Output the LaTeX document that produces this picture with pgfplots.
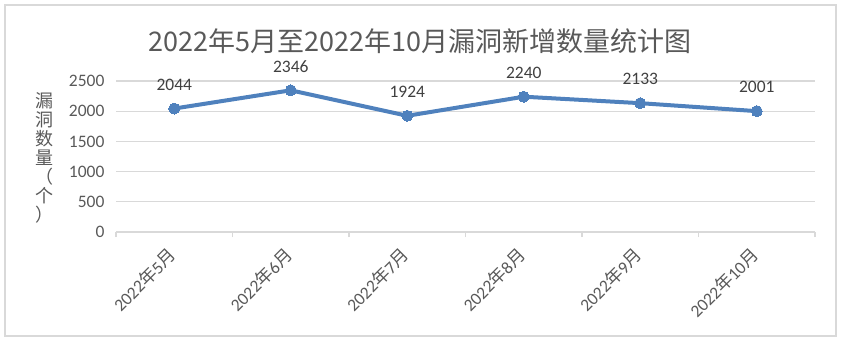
\documentclass[border=0pt]{standalone}
\usepackage{pgfplots}
\pgfplotsset{compat=1.18}
\usepackage{fontspec}
\setmainfont{Carlito}
\newfontfamily\cjk{Noto Sans CJK SC}
\definecolor{linec}{RGB}{79,129,189}
\definecolor{gridc}{RGB}{217,217,217}
\definecolor{txt}{RGB}{89,89,89}
\definecolor{lbl}{RGB}{64,64,64}
\begin{document}
\begin{tikzpicture}[x=1pt,y=1pt]
\path[use as bounding box] (0,0) rectangle (843,341);
\draw[gridc, line width=1.2pt] (5,5) rectangle (836,336);
\node[text=txt, font=\fontsize{27}{30}\selectfont\cjk] at (420,300) {2022年5月至2022年10月漏洞新增数量统计图};
\node[text=txt, font=\fontsize{18}{20}\selectfont\cjk, align=center, anchor=center] at (44,183)
  {漏\\[-1pt]洞\\[-1pt]数\\[-1pt]量\\[-1pt]（\\[-1pt]个\\[-1pt]）};
\begin{axis}[
  at={(116pt,109pt)}, anchor=south west,
  scale only axis, width=699pt, height=151pt,
  xmin=-0.5, xmax=5.5, ymin=0, ymax=2500,
  ytick={0,500,...,2500},
  xtick={0,...,5},
  xticklabels={2022{\cjk 年}5{\cjk 月},2022{\cjk 年}6{\cjk 月},2022{\cjk 年}7{\cjk 月},2022{\cjk 年}8{\cjk 月},2022{\cjk 年}9{\cjk 月},2022{\cjk 年}10{\cjk 月}},
  minor xtick={-0.5,0.5,...,5.5},
  major tick length=0pt, minor tick length=5pt,
  tick align=outside,
  every minor tick/.style={gridc, line width=1.2pt},
  axis x line*=bottom, axis y line*=left,
  x axis line style={gridc, line width=1.2pt, -},
  y axis line style={draw=none},
  ymajorgrids, grid style={gridc, line width=1.2pt},
  /pgf/number format/assume math mode=true,
  /pgf/number format/1000 sep={},
  yticklabel style={text=txt, font=\fontsize{17.5}{20}\selectfont, xshift=-8pt},
  xticklabel style={text=txt, font=\fontsize{17.5}{20}\selectfont, rotate=45, anchor=north east, inner sep=0pt, xshift=-15pt, yshift=-4.5pt},
  ytick style={draw=none},
  clip=false,
  nodes near coords,
  every node near coord/.append style={text=lbl, font=\fontsize{17.5}{20}\selectfont, anchor=center, inner sep=0pt, yshift=24pt},
]
\addplot[linec, line width=4pt, mark=*, mark size=5.5pt, mark options={fill=linec, draw=linec, line width=0pt}]
  coordinates {(0,2044) (1,2346) (2,1924) (3,2240) (4,2133) (5,2001)};
\end{axis}
\end{tikzpicture}
\end{document}
